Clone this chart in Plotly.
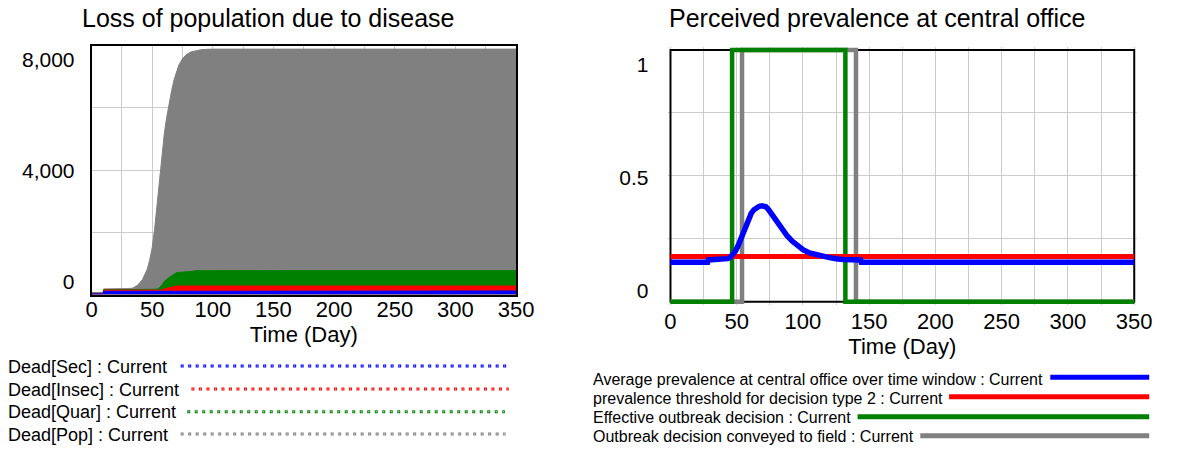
import plotly.graph_objects as go

# ---------------- data ----------------
DAYS_L = [0, 9.5, 10, 20, 30, 34, 38, 42, 46, 48, 50, 52, 54, 56, 58, 60, 62, 64, 66,
          68, 70, 72, 75, 78, 82, 86, 90, 96, 100, 150, 200, 250, 300, 350]
DEAD_POP = [60, 60, 180, 180, 190, 205, 300, 480, 820, 1120, 1500, 2100, 2850, 3680,
            4450, 5180, 5700, 6150, 6550, 6900, 7150, 7380, 7580, 7710, 7800, 7845,
            7870, 7885, 7890, 7890, 7890, 7890, 7890, 7890]
DEAD_QUAR = [40, 40, 150, 150, 150, 150, 150, 150, 150, 150, 150, 155, 170, 220, 300,
             420, 500, 550, 600, 660, 700, 710, 715, 720, 740, 765, 766, 768, 768, 768,
             768, 768, 768, 768]
DEAD_INSEC = [30, 30, 140, 140, 140, 140, 140, 140, 140, 140, 140, 140, 140, 140, 140,
              180, 200, 210, 240, 265, 270, 273, 273, 273, 273, 273, 273, 273, 273, 273,
              273, 273, 273, 273]
DEAD_SEC = [20, 20, 100, 100, 100, 100, 100, 100, 100, 100, 100, 100, 100, 100, 100,
            100, 110, 112, 112, 112, 112, 112, 112, 112, 112, 112, 112, 112, 112, 112,
            112, 112, 112, 112]
LEFT_NAMES = ["Dead[Sec] : Current", "Dead[Insec] : Current",
              "Dead[Quar] : Current", "Dead[Pop] : Current"]

DAYS_AVG = [0, 28, 28.5, 40, 43, 45, 47, 49, 51, 53, 55, 57, 59, 61, 63, 65, 67, 69,
            70.5, 72, 74, 77, 80, 84, 88, 92, 96, 100, 105, 110, 115, 120, 125, 130,
            143.5, 144, 350]
AVG_PREV = [0.1565, 0.1565, 0.166, 0.168, 0.171, 0.176, 0.186, 0.201, 0.222, 0.250,
            0.280, 0.309, 0.333, 0.352, 0.365, 0.374, 0.379, 0.381, 0.381, 0.377,
            0.366, 0.344, 0.318, 0.288, 0.262, 0.240, 0.222, 0.207, 0.194, 0.186,
            0.180, 0.175, 0.171, 0.168, 0.166, 0.1565, 0.1565]
DAYS_THR = [0, 350]
THRESHOLD = [0.18, 0.18]
DAYS_EFF = [0, 46.5, 132, 350]
EFFECTIVE = [0, 1, 0, 0]
DAYS_CONV = [0, 54, 140, 350]
CONVEYED = [0, 1, 0, 0]
RIGHT_NAMES = ["Average prevalence at central office over time window : Current",
               "prevalence threshold for decision type 2 : Current",
               "Effective outbreak decision : Current",
               "Outbreak decision conveyed to field : Current"]

X_TICKS = [0, 50, 100, 150, 200, 250, 300, 350]
Y1_TICKS = [0, 4000, 8000]
Y1_GRID = [2000, 4000, 6000]
Y1_MAX = 8000
Y2_TICKS = [0, 0.5, 1]
Y2_GRID = [0.25, 0.5, 0.75]
Y2_MAX = 1
X_MAX = 350

# ---------------- style ----------------
W, H = 1178, 449
FONT = "Liberation Sans, Arial, sans-serif"
BLUE, RED, GREEN, GRAY = "#0000FF", "#FF0000", "#008000", "#808080"
GRID = "#CCCCCC"

# left plot frame (px)
LX0, LX1, LT, LB = 87.3, 520.7, 45.7, 294.5
# right plot frame (px)
RX0, RX1, RT, RB = 678.3, 1151.7, 50.0, 301.7
PAD = 3.0


def fx(p):
    return p / W


def fy(p):
    return 1 - p / H


def label_range(p0, p1, v1, top_px, bot_px):
    # value 0 drawn at p0 px, value v1 drawn at p1 px
    per_px = v1 / (p0 - p1)
    return [-(bot_px - p0) * per_px, (p0 - top_px) * per_px]


r_ppd = (RX1 - RX0) / X_MAX
r_pad_x = PAD / r_ppd
r_pad_y = PAD * Y2_MAX / (RB - RT)

fig = go.Figure()

# left chart
for xs, ys, col in [(DAYS_L, DEAD_POP, GRAY), (DAYS_L, DEAD_QUAR, GREEN),
                    (DAYS_L, DEAD_INSEC, RED), (DAYS_L, DEAD_SEC, BLUE)]:
    fig.add_trace(go.Scatter(x=xs, y=ys, mode="lines", fill="tozeroy", fillcolor=col,
                             line=dict(color=col, width=1), xaxis="x", yaxis="y",
                             showlegend=False, hoverinfo="skip"))
fig.add_trace(go.Scatter(x=[0], y=[0], mode="lines", xaxis="x", yaxis="y3",
                         showlegend=False, hoverinfo="skip"))

# right chart
for xs, ys, col, wd, shp in [(DAYS_CONV, CONVEYED, GRAY, 4.5, "hv"),
                             (DAYS_EFF, EFFECTIVE, GREEN, 4.5, "hv"),
                             (DAYS_THR, THRESHOLD, RED, 5, "linear"),
                             (DAYS_AVG, AVG_PREV, BLUE, 5.5, "linear")]:
    fig.add_trace(go.Scatter(x=xs, y=ys, mode="lines",
                             line=dict(color=col, width=wd, shape=shp),
                             xaxis="x2", yaxis="y2", showlegend=False, hoverinfo="skip"))
fig.add_trace(go.Scatter(x=[0], y=[0], mode="lines", xaxis="x2", yaxis="y4",
                         showlegend=False, hoverinfo="skip"))

tick_font = dict(family=FONT, size=22, color="black")
common_x = dict(tickvals=X_TICKS, showgrid=True, gridcolor=GRID, gridwidth=1,
                minor=dict(dtick=25, tick0=0, showgrid=True, gridcolor=GRID, gridwidth=1),
                zeroline=False, ticks="", tickfont=tick_font,
                title=dict(text="Time (Day)", font=dict(family=FONT, size=22, color="black"),
                           standoff=0))

fig.update_layout(
    width=W, height=H, margin=dict(l=0, r=0, t=0, b=0), autosize=False,
    paper_bgcolor="white", plot_bgcolor="white",
    font=dict(family=FONT, color="black"),
    xaxis=dict(domain=[fx(LX0), fx(LX1)], range=[0, X_MAX], anchor="y",
               showline=True, mirror=True, linecolor="black", linewidth=2,
               ticklabelstandoff=-6, **common_x),
    yaxis=dict(domain=[fy(LB), fy(LT)], range=[0, Y1_MAX], anchor="x",
               tickvals=Y1_GRID, showticklabels=False, showgrid=True, gridcolor=GRID,
               zeroline=False, showline=True, mirror=True, linecolor="black",
               linewidth=2, ticks=""),
    yaxis3=dict(overlaying="y", anchor="x", side="left",
                range=label_range(281.7, 60.0, Y1_TICKS[-1], LT, LB),
                tickvals=Y1_TICKS, tickformat=",", showgrid=False, zeroline=False,
                showline=False, ticks="", tickfont=dict(family=FONT, size=21, color="black"),
                ticklabelstandoff=16),
    xaxis2=dict(domain=[fx(RX0 - PAD), fx(RX1 + PAD)],
                range=[-r_pad_x, X_MAX + r_pad_x], anchor="y2", showline=False,
                ticklabelstandoff=1, **common_x),
    yaxis2=dict(domain=[fy(RB + PAD), fy(RT - PAD)], range=[-r_pad_y, Y2_MAX + r_pad_y],
                anchor="x2", tickvals=Y2_GRID, showticklabels=False, showgrid=True,
                gridcolor=GRID, zeroline=False, showline=False, ticks=""),
    yaxis4=dict(overlaying="y2", anchor="x2", side="left",
                range=label_range(291.0, 65.0, Y2_TICKS[-1], RT - PAD, RB + PAD),
                tickvals=Y2_TICKS, showgrid=False, zeroline=False, showline=False,
                ticks="", tickfont=dict(family=FONT, size=21, color="black"),
                ticklabelstandoff=18),
)

# frame of right plot (at the data range)
fig.add_shape(type="rect", xref="x2", yref="y2", x0=0, x1=X_MAX, y0=0, y1=Y2_MAX,
              line=dict(color="black", width=2), layer="between")

# titles
fig.add_annotation(text="Loss of population due to disease", x=fx(268), y=fy(18),
                   xref="paper", yref="paper", showarrow=False, xanchor="center",
                   yanchor="middle", font=dict(family=FONT, size=25, color="black"))
fig.add_annotation(text="Perceived prevalence at central office", x=fx(889), y=fy(18),
                   xref="paper", yref="paper", showarrow=False, xanchor="center",
                   yanchor="middle", font=dict(family=FONT, size=25, color="black"))

# left legend
L_ROWS = [367.3, 390.0, 412.3, 435.0]
L_LINE_Y = [366.0, 389.0, 411.7, 434.0]
L_LINE_X = [(178.3, 511.7), (189.3, 513.3), (185.0, 509.3), (178.3, 510.0)]
for name, col, ty, ly, (lx0, lx1) in zip(LEFT_NAMES, [BLUE, RED, GREEN, GRAY],
                                         L_ROWS, L_LINE_Y, L_LINE_X):
    fig.add_annotation(text=name, x=fx(0), y=fy(ty), xref="paper", yref="paper",
                       showarrow=False, xanchor="left", yanchor="middle",
                       font=dict(family=FONT, size=18, color="black"))
    fig.add_shape(type="line", xref="paper", yref="paper", x0=fx(lx0), x1=fx(lx1),
                  y0=fy(ly), y1=fy(ly), line=dict(color=col, width=3, dash="3px,4.5px"))
    fig.add_shape(type="line", xref="paper", yref="paper", x0=fx(lx0), x1=fx(lx1),
                  y0=fy(ly), y1=fy(ly),
                  line=dict(color="white", width=1, dash="0px,1px,1px,5.5px"))

# right legend
R_ROWS = [379.0, 398.3, 417.7, 436.7]
R_LINE_Y = [377.3, 396.7, 416.7, 435.7]
R_LINE_X0 = [1066.0, 962.7, 869.3, 933.3]
R_LINE_X1 = 1167.0
for name, col, ty, ly, lx0 in zip(RIGHT_NAMES, [BLUE, RED, GREEN, GRAY],
                                  R_ROWS, R_LINE_Y, R_LINE_X0):
    fig.add_annotation(text=name, x=fx(597), y=fy(ty), xref="paper", yref="paper",
                       showarrow=False, xanchor="left", yanchor="middle",
                       font=dict(family=FONT, size=16, color="black"))
    fig.add_shape(type="line", xref="paper", yref="paper", x0=fx(lx0), x1=fx(R_LINE_X1),
                  y0=fy(ly), y1=fy(ly), line=dict(color=col, width=5))

fig.write_html(
    "out.html",
    config={"displayModeBar": False, "responsive": False},
    post_script="document.body.style.margin='0';"
                "document.body.style.overflow='hidden';"
                "document.documentElement.style.overflow='hidden';",
)
